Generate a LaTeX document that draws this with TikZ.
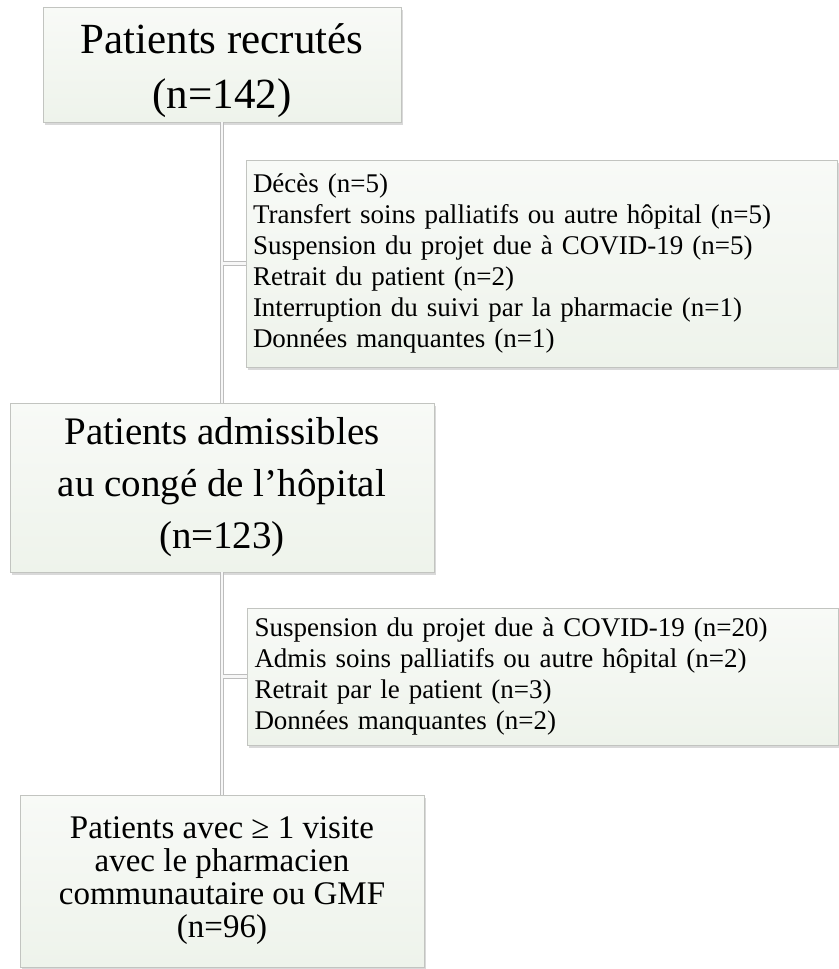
\documentclass[tikz,border=0pt]{standalone}
\usepackage{fontspec}
\setmainfont{Liberation Serif}
\usetikzlibrary{shadows}
\definecolor{boxtop}{HTML}{F8FAF7}
\definecolor{boxbot}{HTML}{EEF3EB}
\definecolor{boxline}{HTML}{C2C4C0}
\definecolor{linkgray}{HTML}{BDBDBD}
\begin{document}
\begin{tikzpicture}[x=1pt, y=-1pt,
  stage/.style={draw=boxline, top color=boxtop, bottom color=boxbot, align=center, inner sep=0pt,
    drop shadow={shadow xshift=1.5pt, shadow yshift=-2.5pt, opacity=0.3}},
  excl/.style={stage, align=left, inner xsep=7pt, text width=577pt, font=\fontsize{27}{31}\selectfont},
  link/.style={draw=linkgray, line width=0.9pt, double=white!94!gray, double distance=2.4pt}]
  \useasboundingbox (0,0) rectangle (838,969);
  \node[stage, minimum width=358pt, minimum height=115pt, font=\fontsize{43}{55}\selectfont] (recrutes) at (222,64.5) {\rule{0pt}{42pt}Patients recrutés\\(n=142)};
  \node[stage, minimum width=424pt, minimum height=169pt, font=\fontsize{39}{52}\selectfont] (admissibles) at (222,487.5) {Patients admissibles\\au congé de l’hôpital\\(n=123)};
  \node[stage, minimum width=404pt, minimum height=172pt, font=\fontsize{33}{33}\selectfont] (visite) at (222,881) {Patients avec ≥ 1 visite\\avec le pharmacien\\communautaire ou GMF\\(n=96)};
  \node[excl, minimum height=207pt] (exclus1) at (541.5,263.5) {Décès (n=5)\\Transfert soins palliatifs ou autre hôpital (n=5)\\Suspension du projet due à COVID-19 (n=5)\\Retrait du patient (n=2)\\Interruption du suivi par la pharmacie (n=1)\\Données manquantes (n=1)};
  \node[excl, minimum height=137pt] (exclus2) at (543,676.5) {Suspension du projet due à COVID-19 (n=20)\\Admis soins palliatifs ou autre hôpital (n=2)\\Retrait par le patient (n=3)\\Données manquantes (n=2)};
  \foreach \a/\b/\x in {recrutes/admissibles/exclus1, admissibles/visite/exclus2}
    \draw[link] (\a.south) -- (\b.north) (\a.south |- \x.west) -- (\x.west);
\end{tikzpicture}
\end{document}
